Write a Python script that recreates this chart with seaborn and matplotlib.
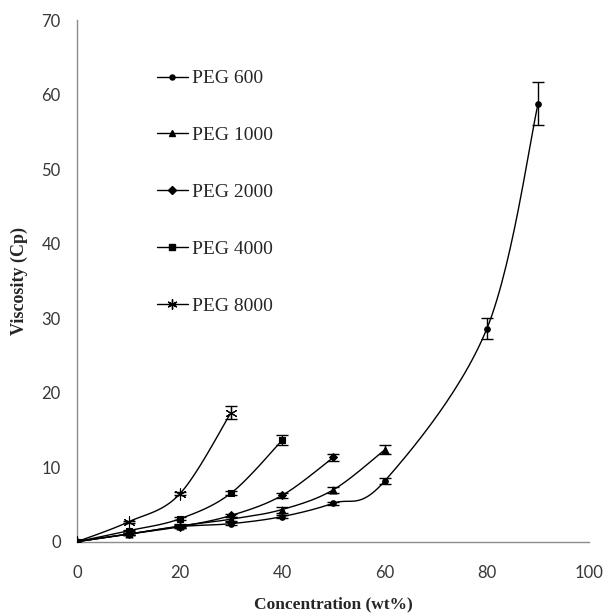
import numpy as np
import pandas as pd
import matplotlib
matplotlib.use("Agg")
import matplotlib.pyplot as plt
import seaborn as sns
from matplotlib.lines import Line2D

# -----------------------------
# Data
# -----------------------------
series_names = ["PEG 600", "PEG 1000", "PEG 2000", "PEG 4000", "PEG 8000"]

peg600_x = [0, 10, 20, 30, 40, 50, 60, 80, 90]
peg600_y = [0, 1.0, 2.0, 2.4, 3.35, 5.15, 8.1, 28.6, 58.8]
peg600_err = [0, 0.1, 0.2, 0.2, 0.2, 0.2, 0.4, 1.4, 2.9]

peg1000_x = [0, 10, 20, 30, 40, 50, 60]
peg1000_y = [0, 1.0, 2.1, 3.0, 4.3, 6.95, 12.3]
peg1000_err = [0, 0.1, 0.2, 0.3, 0.4, 0.4, 0.6]

peg2000_x = [0, 10, 20, 30, 40, 50]
peg2000_y = [0, 1.0, 2.0, 3.5, 6.2, 11.3]
peg2000_err = [0, 0.1, 0.2, 0.2, 0.3, 0.5]

peg4000_x = [0, 10, 20, 30, 40]
peg4000_y = [0, 1.45, 3.05, 6.5, 13.6]
peg4000_err = [0, 0.1, 0.2, 0.3, 0.7]

peg8000_x = [0, 10, 20, 30]
peg8000_y = [0, 2.65, 6.4, 17.3]
peg8000_err = [0, 0.1, 0.2, 0.9]

all_x = [peg600_x, peg1000_x, peg2000_x, peg4000_x, peg8000_x]
all_y = [peg600_y, peg1000_y, peg2000_y, peg4000_y, peg8000_y]
all_err = [peg600_err, peg1000_err, peg2000_err, peg4000_err, peg8000_err]
markers = ["o", "^", "D", "s", (6, 2, 0)]
marker_sizes = [4, 5, 4, 4.5, 8]

x_ticks = [0, 20, 40, 60, 80, 100]
y_ticks = [0, 10, 20, 30, 40, 50, 60, 70]


# -----------------------------
# Excel-like smoothed line (Bezier through the points)
# -----------------------------
def smooth_curve(xs, ys, sx=5.19, sy=7.44, n=30):
    p = np.column_stack([np.array(xs) * sx, np.array(ys) * sy])
    p = np.vstack([p[0], p, p[-1]])
    out = []
    for i in range(1, len(p) - 2):
        p0, p1, p2, p3 = p[i - 1], p[i], p[i + 1], p[i + 2]
        c1 = p1 + (p2 - p0) / 6
        c2 = p2 - (p3 - p1) / 6
        t = np.linspace(0, 1, n)[:, None]
        seg = ((1 - t) ** 3 * p1 + 3 * (1 - t) ** 2 * t * c1
               + 3 * (1 - t) * t ** 2 * c2 + t ** 3 * p2)
        out.append(seg if i == 1 else seg[1:])
    out = np.vstack(out)
    return out[:, 0] / sx, out[:, 1] / sy


# -----------------------------
# Plot
# -----------------------------
sns.set_style("white")
plt.rcParams["font.family"] = ["Liberation Serif", "DejaVu Serif"]

fig = plt.figure(figsize=(6.05, 6.14), dpi=100)
ax = fig.add_axes([0.128, 0.118, 0.846, 0.849])

for name, xs, ys, es, m, ms in zip(series_names, all_x, all_y, all_err,
                                   markers, marker_sizes):
    cx, cy = smooth_curve(xs, ys)
    curve = pd.DataFrame({"x": cx, "y": cy})
    sns.lineplot(data=curve, x="x", y="y", sort=False, estimator=None,
                 color="black", linewidth=1.0, ax=ax)
    ax.errorbar(xs, ys, yerr=es, fmt="none", ecolor="black",
                elinewidth=1.0, capsize=4, capthick=1.0)
    sns.scatterplot(x=xs, y=ys, marker=m, s=ms ** 2, color="black",
                    edgecolor="black", linewidth=0.8, ax=ax, zorder=5)

ax.set_xlim(0, 100)
ax.set_ylim(0, 70)
ax.set_xticks(x_ticks)
ax.set_yticks(y_ticks)

for side in ["top", "right"]:
    ax.spines[side].set_visible(False)
for side in ["left", "bottom"]:
    ax.spines[side].set_color("#8c8c8c")
    ax.spines[side].set_linewidth(1.0)

ax.tick_params(axis="both", direction="out", length=4, width=0.8,
               color="#8c8c8c", labelsize=12, labelcolor="#383838")
ax.tick_params(axis="x", pad=13)
ax.tick_params(axis="y", pad=8)
for lab in ax.get_xticklabels() + ax.get_yticklabels():
    lab.set_family(["Lato", "DejaVu Sans"])

ax.set_xlabel("Concentration (wt%)", fontsize=12.5, fontweight="bold",
              labelpad=11)
ax.set_ylabel("Viscosity (Cp)", fontsize=13, fontweight="bold",
              labelpad=10)

handles = [
    Line2D([0], [0], color="black", lw=1.0, marker=m, markersize=ms * 0.9,
           markerfacecolor="black", markeredgecolor="black")
    for m, ms in zip(markers, marker_sizes)
]
ax.legend(handles, series_names, loc="upper left",
          bbox_to_anchor=(0.14, 0.92), frameon=False, fontsize=14,
          labelspacing=2.02, handlelength=1.6, handletextpad=0.2,
          borderaxespad=0)

fig.savefig("out.png", dpi=100)
plt.close(fig)
